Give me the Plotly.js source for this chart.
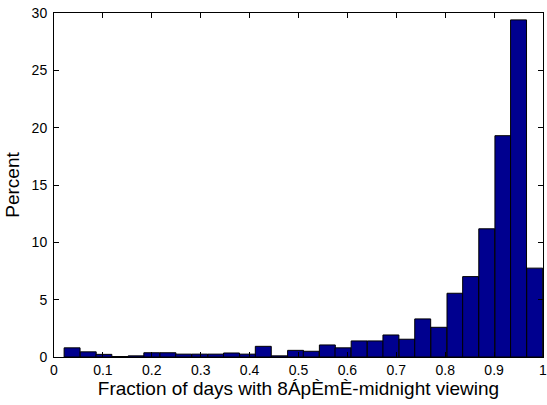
<!DOCTYPE html>
<html>
<head>
<meta charset="utf-8">
<script src="https://cdn.plot.ly/plotly-3.0.1.min.js"></script>
<style>html,body{margin:0;padding:0;background:#fff;}#chart{width:547px;height:405px;}</style>
</head>
<body>
<div id="chart"></div>
<script>
// Bin centers (fraction of days) and bar heights (percent)
const binCenters = [0.037, 0.070, 0.102, 0.135, 0.168, 0.200, 0.233, 0.265, 0.298, 0.331,
                    0.363, 0.396, 0.428, 0.461, 0.494, 0.526, 0.559, 0.591, 0.624, 0.657,
                    0.689, 0.722, 0.754, 0.787, 0.820, 0.852, 0.885, 0.918, 0.950, 0.983];
const percentValues = [0.80, 0.45, 0.23, 0.04, 0.10, 0.37, 0.37, 0.25, 0.25, 0.25,
                       0.35, 0.25, 0.93, 0.10, 0.58, 0.50, 1.05, 0.80, 1.40, 1.40,
                       1.92, 1.55, 3.32, 2.59, 5.56, 7.01, 11.18, 19.30, 29.40, 7.75];
const binWidth = 0.0326;
const xTicks = [0, 0.1, 0.2, 0.3, 0.4, 0.5, 0.6, 0.7, 0.8, 0.9, 1];
const xTickLabels = ['0', '0.1', '0.2', '0.3', '0.4', '0.5', '0.6', '0.7', '0.8', '0.9', '1'];
const yTicks = [0, 5, 10, 15, 20, 25, 30];
const xLabel = 'Fraction of days with 8ÁpÈmÈ-midnight viewing';
const yLabel = 'Percent';

const trace = {
  type: 'bar',
  x: binCenters,
  y: percentValues,
  width: binCenters.map(() => binWidth),
  marker: {color: '#00008F', line: {color: '#000000', width: 1}},
  hoverinfo: 'x+y'
};

const font = {family: '"Liberation Sans", Arial, Helvetica, sans-serif', color: '#000', size: 14};

const layout = {
  width: 547, height: 405,
  margin: {l: 54, r: 4, t: 13, b: 48, pad: 0},
  paper_bgcolor: '#fff', plot_bgcolor: '#fff',
  font: font,
  showlegend: false,
  bargap: 0,
  xaxis: {
    range: [0, 1], tickvals: xTicks, ticktext: xTickLabels,
    ticks: 'inside', ticklen: 5, tickwidth: 1, tickcolor: '#000',
    showline: true, linecolor: '#000', linewidth: 1, mirror: 'ticks',
    showgrid: false, zeroline: false,
    ticklabeloverflow: 'allow',
    tickfont: {size: 14},
    title: {text: xLabel, font: {size: 19}, standoff: 4}
  },
  yaxis: {
    range: [0, 30], tickvals: yTicks,
    ticks: 'inside', ticklen: 5, tickwidth: 1, tickcolor: '#000',
    showline: true, linecolor: '#000', linewidth: 1, mirror: 'ticks',
    showgrid: false, zeroline: false,
    tickfont: {size: 14},
    ticklabelstandoff: 3,
    title: {text: yLabel, font: {size: 19}, standoff: 6}
  }
};

Plotly.newPlot('chart', [trace], layout, {displayModeBar: false, staticPlot: true});
</script>
</body>
</html>
